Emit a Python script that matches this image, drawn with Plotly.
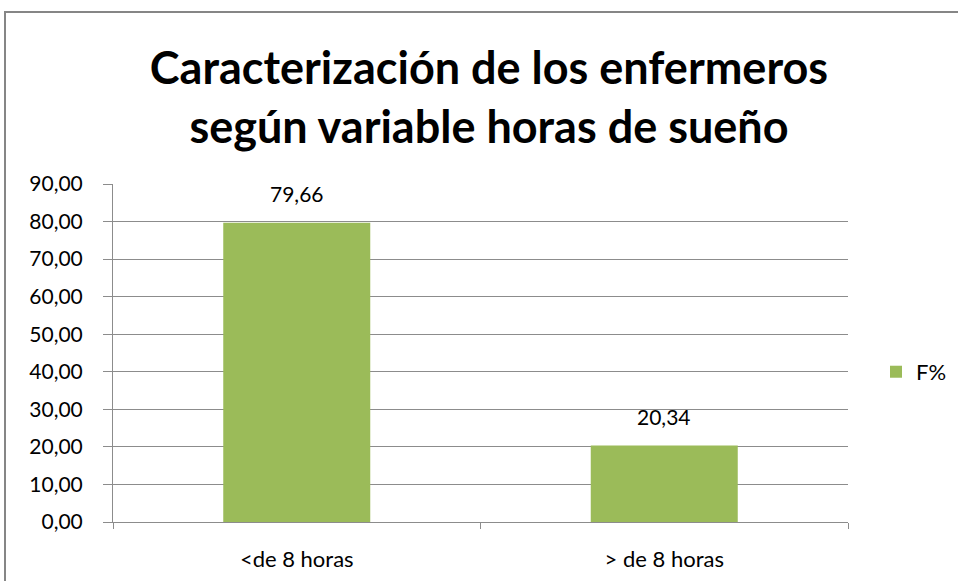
import plotly.graph_objects as go

categories = ["<de 8 horas", "> de 8 horas"]
values = [79.66, 20.34]
series_name = "F%"
title_lines = ["Caracterización de los enfermeros", "según variable horas de sueño"]
y_ticks = [0, 10, 20, 30, 40, 50, 60, 70, 80, 90]

GREEN = "#9BBB59"
GRID = "#8C8C8C"
FONT = "Lato"
W, H = 958, 581

fig = go.Figure()
fig.add_trace(go.Bar(
    x=categories, y=values, name=series_name,
    marker=dict(color=GREEN, line=dict(width=0)),
    showlegend=True,
))

for c, v in zip(categories, values):
    fig.add_annotation(
        x=c, y=v, text=f"{v:.2f}".replace(".", ","),
        showarrow=False, yanchor="middle", yshift=29,
        font=dict(family=FONT, size=21, color="#000000"),
    )

fig.update_layout(
    width=W, height=H,
    margin=dict(l=0, r=0, t=184, b=59),
    paper_bgcolor="white", plot_bgcolor="white",
    separators=",.",
    bargap=0.6,
    title=dict(
        text="<b>" + "<br>".join(title_lines) + "</b>",
        x=489 / W, xanchor="center", xref="paper",
        y=1 - 84 / H, yanchor="middle",
        font=dict(family=FONT, size=45, color="#000000"),
    ),
    legend=dict(
        x=876 / W, y=0.444, xanchor="left", yanchor="middle",
        font=dict(family=FONT, size=22, color="#000000"),
        itemwidth=30, bgcolor="rgba(0,0,0,0)",
    ),
    xaxis=dict(
        domain=[113 / W, 848 / W],
        showline=True, linecolor=GRID, linewidth=1,
        ticks="outside", ticklen=6, tickcolor=GRID, tickson="boundaries",
        ticklabelstandoff=18,
        tickfont=dict(family=FONT, size=22, color="#000000"),
        showgrid=False,
    ),
    yaxis=dict(
        range=[0, 90], tickvals=y_ticks, tickformat=".2f",
        showline=True, linecolor=GRID, linewidth=1,
        ticks="outside", ticklen=9, tickcolor=GRID,
        ticklabelstandoff=16,
        showgrid=True, gridcolor=GRID, gridwidth=1,
        tickfont=dict(family=FONT, size=21, color="#000000"),
        zeroline=False,
    ),
    shapes=[dict(
        type="rect", xref="paper", yref="paper",
        x0=5 / W, x1=1000 / W,
        y0=(522 - 620) / 338, y1=(522 - 12) / 338,
        line=dict(color="#868686", width=2), fillcolor="rgba(0,0,0,0)",
        layer="below",
    )],
)

fig.write_html(
    "out.html",
    config={"displayModeBar": False},
    post_script="document.body.style.margin='0';document.body.style.overflow='hidden';",
)
